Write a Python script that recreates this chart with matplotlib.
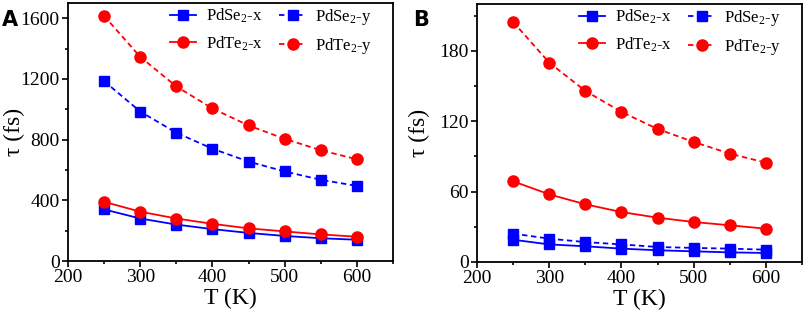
import matplotlib
matplotlib.use("Agg")
import matplotlib.pyplot as plt
from matplotlib.ticker import MultipleLocator

plt.rcParams['font.family'] = ['Liberation Serif', 'DejaVu Serif']
plt.rcParams['mathtext.fontset'] = 'custom'
plt.rcParams['mathtext.rm'] = 'Liberation Serif'
plt.rcParams['mathtext.it'] = 'Liberation Serif:italic'

T = [250, 300, 350, 400, 450, 500, 550, 600]

# Panel A
a_pdse2_x = [340, 280, 240, 210, 185, 165, 150, 140]
a_pdse2_y = [1185, 985, 845, 740, 655, 590, 535, 495]
a_pdte2_x = [390, 325, 280, 245, 215, 195, 175, 160]
a_pdte2_y = [1615, 1345, 1150, 1005, 893, 805, 730, 670]

# Panel B
b_pdse2_x = [19, 15, 13.4, 11.4, 10, 9.1, 8.2, 7.7]
b_pdse2_y = [24.2, 19.9, 17, 15, 12.8, 12, 11.4, 10.5]
b_pdte2_x = [68.8, 57.7, 49.2, 42.6, 37.8, 34.1, 31.3, 28.4]
b_pdte2_y = [204.7, 170, 145.9, 128, 113.4, 102.4, 92.4, 84.7]

labels = ['PdSe$_2$-x', 'PdSe$_2$-y', 'PdTe$_2$-x', 'PdTe$_2$-y']
blue = '#0000FF'
red = '#FF0000'

fig = plt.figure(figsize=(8.09, 3.2), dpi=100)
axA = fig.add_axes([68/809, (320-261)/320, 325/809, 258/320])
axB = fig.add_axes([477/809, (320-262)/320, 325/809, 258/320])

def draw(ax, sx, sy, tx, ty, ymax, major, minor, panel, ylx):
    lw = 1.3
    ms = 7.5
    l1, = ax.plot(T, sx, '-', color=blue, lw=lw, marker='s', ms=ms, label=labels[0])
    l2, = ax.plot(T, sy, '--', color=blue, lw=lw, marker='s', ms=ms, dashes=(3, 2), label=labels[1])
    l3, = ax.plot(T, tx, '-', color=red, lw=lw, marker='o', ms=ms + 0.5, label=labels[2])
    l4, = ax.plot(T, ty, '--', color=red, lw=lw, marker='o', ms=ms + 0.5, dashes=(3, 2), label=labels[3])
    ax.set_xlim(200, 650)
    ax.set_ylim(0, ymax)
    ax.xaxis.set_major_locator(MultipleLocator(100))
    ax.xaxis.set_minor_locator(MultipleLocator(50))
    ax.yaxis.set_major_locator(MultipleLocator(major))
    ax.yaxis.set_minor_locator(MultipleLocator(minor))
    ax.tick_params(which='both', direction='out', top=False, right=False, width=1.2)
    ax.tick_params(which='major', length=4, labelsize=14, pad=2)
    ax.tick_params(which='minor', length=2.5)
    for s in ax.spines.values():
        s.set_linewidth(1.3)
    ax.set_xlabel('T (K)', fontsize=17, labelpad=1)
    ax.set_ylabel('τ (fs)', fontsize=17)
    ax.yaxis.set_label_coords(ylx, 0.5)
    ax.legend(handles=[l1, l3, l2, l4], ncol=2, loc='upper right',
              bbox_to_anchor=(0.957, 1.012), frameon=False, fontsize=12,
              handlelength=1.6, handletextpad=0.55, columnspacing=1.0,
              labelspacing=0.55, borderaxespad=0.0)
    fig.text(ax.get_position().x0 - (66 if panel == 'A' else 64) / 809, 0.97, panel,
             fontsize=15, fontweight='bold', family='DejaVu Sans', va='top', ha='left')

draw(axA, a_pdse2_x, a_pdse2_y, a_pdte2_x, a_pdte2_y, 1700, 400, 200, 'A', -0.132)
draw(axB, b_pdse2_x, b_pdse2_y, b_pdte2_x, b_pdte2_y, 220, 60, 30, 'B', -0.145)

fig.savefig('out.png', dpi=100)
